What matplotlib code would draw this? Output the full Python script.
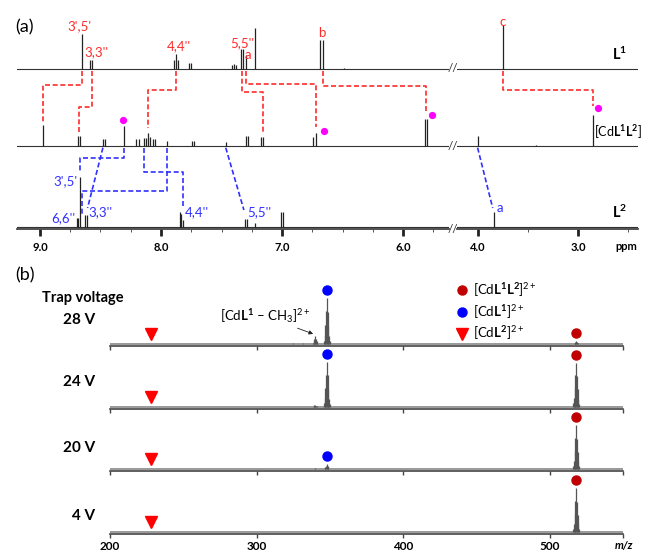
import numpy as np
import matplotlib.pyplot as plt
from matplotlib.lines import Line2D

plt.rcParams['font.family'] = ['Lato', 'DejaVu Sans']
plt.rcParams['mathtext.fontset'] = 'custom'
plt.rcParams['mathtext.rm'] = 'Lato'
plt.rcParams['mathtext.it'] = 'Lato:italic'
plt.rcParams['mathtext.bf'] = 'Lato:bold'

# ---------------- (a) 1H NMR peak lists (ppm, height) ----------------
l1_ppm = [8.649, 8.585, 8.568, 7.894, 7.874, 7.857, 7.772, 7.755, 7.415, 7.398, 7.382,
          7.340, 7.324, 7.299, 7.224, 6.685, 6.662, 6.485, 3.75]
l1_int = [35, 9, 9, 9, 15, 9, 6, 6, 4, 5, 4, 20, 20, 14, 41, 29, 29, 1, 44]

cd_ppm = [8.973, 8.682, 8.668, 8.480, 8.463, 8.303, 8.203, 8.184, 8.143, 8.126, 8.106,
          8.087, 8.065, 8.051, 7.949, 7.741, 7.728, 7.465, 7.299, 7.282, 7.174, 7.158,
          6.740, 6.720, 5.819, 5.799, 4.004, 3.42, 2.85]
cd_int = [21, 10, 10, 7, 7, 20, 7, 7, 8, 8, 13, 9, 7, 7, 5, 5, 5, 4, 10, 10, 9, 9,
          9, 13, 27, 27, 10, 1, 31]

l2_ppm = [8.695, 8.682, 8.668, 8.627, 8.612, 7.846, 7.832, 7.816, 7.307, 7.290, 7.224,
          7.008, 6.989, 3.84]
l2_int = [9, 9, 50, 12, 12, 15, 13, 7, 8, 8, 4, 15, 15, 15]

# assignments linking L1 -> [CdL1L2] (red) and [CdL1L2] -> L2 (blue)
red_from = [8.649, 8.568, 7.874, 7.332, 7.299, 6.662, 3.75]
red_to = [8.973, 8.676, 8.106, 7.160, 6.720, 5.810, 2.85]
blue_from = [8.303, 7.949, 8.143]
blue_to = [8.672, 8.654, 7.816]
blue_diag_from = [8.480, 7.465, 4.004]
blue_diag_to = [8.607, 7.315, 3.853]
complex_ppm = [8.31, 6.65, 5.76, 2.80]   # magenta dots

# ---------------- (b) ESI-MS ----------------
voltages = ['28 V', '24 V', '20 V', '4 V']
mz_cdl1l2 = 518.0
mz_cdl1 = 348.0
mz_ch3 = 340.0
mz_cdl2 = 228.0
iso_offset = [-2.0, -1.5, -1.0, -0.5, 0.0, 0.5, 1.0, 1.5, 2.0]
iso_rel = [0.08, 0.2, 0.42, 0.72, 1.0, 0.7, 0.4, 0.18, 0.07]
int_cdl1l2 = [3, 44, 44, 44]
int_cdl1 = [46, 45, 5, 0]
int_ch3 = [8, 2, 1, 0]
minor_mz = [325, 332]
minor_int = [1, 1]

W, H = 646, 551
fig = plt.figure(figsize=(W / 100, H / 100), dpi=100)


def fx(px):
    return px / W


def fy(py):
    return 1 - py / H


red = '#ff2b2b'
blue = '#3030ff'
dash = (0, (3, 1.6))

# ---- panel (a): broken ppm axis
a_bot, a_top = 229, 10
axL = fig.add_axes([fx(17), fy(a_bot), fx(449) - fx(17), (a_bot - a_top) / H])
axR = fig.add_axes([fx(457), fy(a_bot), fx(638) - fx(457), (a_bot - a_top) / H])
axL.set_xlim(9.19, 5.62)
axR.set_xlim(4.21, 2.40)
off_l1, off_cd, off_l2 = 160, 83.3, 2.3

for ax in (axL, axR):
    ax.set_ylim(0, a_bot - a_top)
    for s in ('top', 'left', 'right'):
        ax.spines[s].set_visible(False)
    ax.spines['bottom'].set_linewidth(1.3)
    ax.spines['bottom'].set_color('#444444')
    ax.set_yticks([])
    for off, p, h in ((off_l1, l1_ppm, l1_int), (off_cd, cd_ppm, cd_int), (off_l2, l2_ppm, l2_int)):
        ax.axhline(off, color='#333333', lw=0.8)
        ax.vlines(p, off, off + np.array(h), color='#222222', lw=0.9)
    ax.tick_params(axis='x', which='major', direction='out', length=5, width=2, pad=4,
                   labelsize=8, color='#222222')
    ax.tick_params(axis='x', which='minor', direction='out', length=2.5, width=0.7, color='#555555')
    ax.patch.set_alpha(0)

axL.set_xticks([9.0, 8.0, 7.0, 6.0])
axL.set_xticklabels(['9.0', '8.0', '7.0', '6.0'], fontweight='bold')
axL.set_xticks(np.arange(5.75, 9.1, 0.25), minor=True)
axR.set_xticks([4.0, 3.0])
axR.set_xticklabels(['4.0', '3.0'], fontweight='bold')
axR.set_xticks([3.5, 2.5], minor=True)


def pick(p):
    return axL if p > 5 else axR


red_level = [144, 122.3, 139, 137, 144.7, 143.5, 139]
red_stop = [107, 97.3, 100.7, 95.7, 102.3, 117.3, 123]
for p1, p2, lv, st in zip(red_from, red_to, red_level, red_stop):
    pick(p1).plot([p1, p1, p2, p2], [off_l1 - 1.5, lv, lv, st], color=red, lw=1.2, ls=dash,
                  clip_on=False)

blue_level = [70.7, 38, 56.7]
blue_stop = [57, 14, 21]
for p1, p2, lv, st in zip(blue_from, blue_to, blue_level, blue_stop):
    pick(p1).plot([p1, p1, p2, p2], [off_cd - 2, lv, lv, st], color=blue, lw=1.2, ls=dash,
                  clip_on=False)
for p1, p2, st in zip(blue_diag_from, blue_diag_to, [21, 19, 21]):
    pick(p1).plot([p1, p2], [off_cd - 2, st], color=blue, lw=1.2, ls=dash, clip_on=False)

for p, h in zip(complex_ppm, [26, 15, 31, 38]):
    pick(p).plot(p, off_cd + h, 'o', color='#ff00ff', ms=4.2, clip_on=False)

# peak labels
red_lab = [("3',5'", 8.676, 203), ("3,3''", 8.53, 176.5), ("4,4''", 7.855, 183),
           ("5,5''", 7.332, 186), ("a", 7.28, 174), ("b", 6.67, 196), ("c", 3.75, 207)]
for s, p, y in red_lab:
    pick(p).text(p, y, s, color=red, fontsize=9.5, ha='center', va='center')

blue_lab = [("3',5'", 8.69, 48, 'right'), ("6,6''", 8.705, 11, 'right'), ("3,3''", 8.60, 17, 'left'),
            ("4,4''", 7.80, 17, 'left'), ("5,5''", 7.285, 17, 'left'), ("a", 3.81, 21, 'left')]
for s, p, y, ha in blue_lab:
    pick(p).text(p, y, s, color=blue, fontsize=9.5, ha=ha, va='center')

axR.text(2.58, 175, r'$\mathbf{L^1}$', fontsize=10.5, ha='center', va='center')
axR.text(2.835, 97, r'[Cd$\mathbf{L^1L^2}$]', fontsize=9, ha='left', va='center', clip_on=False)
axR.text(2.58, 17, r'$\mathbf{L^2}$', fontsize=10.5, ha='center', va='center')

for y in (69, 146, 229):
    fig.text(fx(453), fy(y), '//', fontsize=8.5, ha='center', va='center', color='#333333')
fig.text(fx(626), fy(246), 'ppm', fontsize=8, fontweight='bold', ha='center', va='center')
fig.text(fx(15), fy(27), '(a)', fontsize=13, ha='left', va='center')

# ---- panel (b): mass spectra at several trap voltages
base_px = [346, 408.5, 471, 534]
axes_b = []
for i, bp in enumerate(base_px):
    ax = fig.add_axes([fx(110), fy(bp), fx(623) - fx(110), 56 / H])
    ax.set_xlim(200, 550)
    ax.set_ylim(-1.6, 54.4)
    for s in ('top', 'left', 'right'):
        ax.spines[s].set_visible(False)
    ax.spines['bottom'].set_linewidth(1.2)
    ax.spines['bottom'].set_color('#444444')
    ax.set_yticks([])
    ax.patch.set_alpha(0)
    ax.axhline(0, color='#888888', lw=1.2)
    ax.set_xticks([200, 300, 400, 500, 550])
    ax.tick_params(axis='x', direction='out', length=3, width=1, pad=2, labelsize=8.5,
                   color='#444444')
    if i == len(base_px) - 1:
        ax.set_xticklabels(['200', '300', '400', '500', ''], fontweight='bold')
    else:
        ax.set_xticklabels([])

    for mz, h in ((mz_cdl1l2, int_cdl1l2[i]), (mz_cdl1, int_cdl1[i]), (mz_ch3, int_ch3[i])):
        if h > 0:
            ax.vlines(mz + np.array(iso_offset), 0, h * np.array(iso_rel), color='#555555', lw=0.9)
    if i == 0:
        ax.vlines(minor_mz, 0, minor_int, color='#666666', lw=0.9)

    ax.plot(mz_cdl1l2, int_cdl1l2[i] + 8, 'o', color='#c00000', ms=6.5, clip_on=False)
    if int_cdl1[i] > 0:
        ax.plot(mz_cdl1, int_cdl1[i] + 8, 'o', color='#0000ff', ms=6.5, clip_on=False)
    ax.plot(mz_cdl2, 10, 'v', color='#ff0000', ms=8.5, clip_on=False)
    axes_b.append(ax)

axes_b[0].annotate(r'[Cd$\mathbf{L^1}$ – CH$_3$]$^{2+}$', xy=(mz_ch3 - 0.5, 10), xytext=(306, 28),
                   fontsize=9.5, ha='center', va='center',
                   arrowprops=dict(arrowstyle='-|>', lw=0.6, color='#222222', mutation_scale=6,
                                   shrinkA=0, shrinkB=1))

fig.text(fx(42), fy(298), 'Trap voltage', fontsize=10.5, fontweight='bold', ha='left', va='center')
for lab, yp in zip(voltages, [320.5, 382.5, 448.5, 516]):
    fig.text(fx(95), fy(yp), lab, fontsize=11, fontweight='bold', ha='right', va='center')
fig.text(fx(633), fy(546), 'm/z', fontsize=8, fontweight='bold', style='italic',
         ha='right', va='center')
fig.text(fx(15), fy(275), '(b)', fontsize=13, ha='left', va='center')

handles = [Line2D([], [], marker='o', color='#c00000', ls='', ms=6.5),
           Line2D([], [], marker='o', color='#0000ff', ls='', ms=6.5),
           Line2D([], [], marker='v', color='#ff0000', ls='', ms=8.5)]
labels = [r'[Cd$\mathbf{L^1L^2}$]$^{2+}$', r'[Cd$\mathbf{L^1}$]$^{2+}$', r'[Cd$\mathbf{L^2}$]$^{2+}$']
fig.legend(handles, labels, loc='upper left', bbox_to_anchor=(fx(455), fy(281)), frameon=False,
           fontsize=9.5, handletextpad=0.4, labelspacing=0.3, handlelength=1.0,
           borderpad=0, borderaxespad=0)

fig.savefig('out.png', dpi=100)
